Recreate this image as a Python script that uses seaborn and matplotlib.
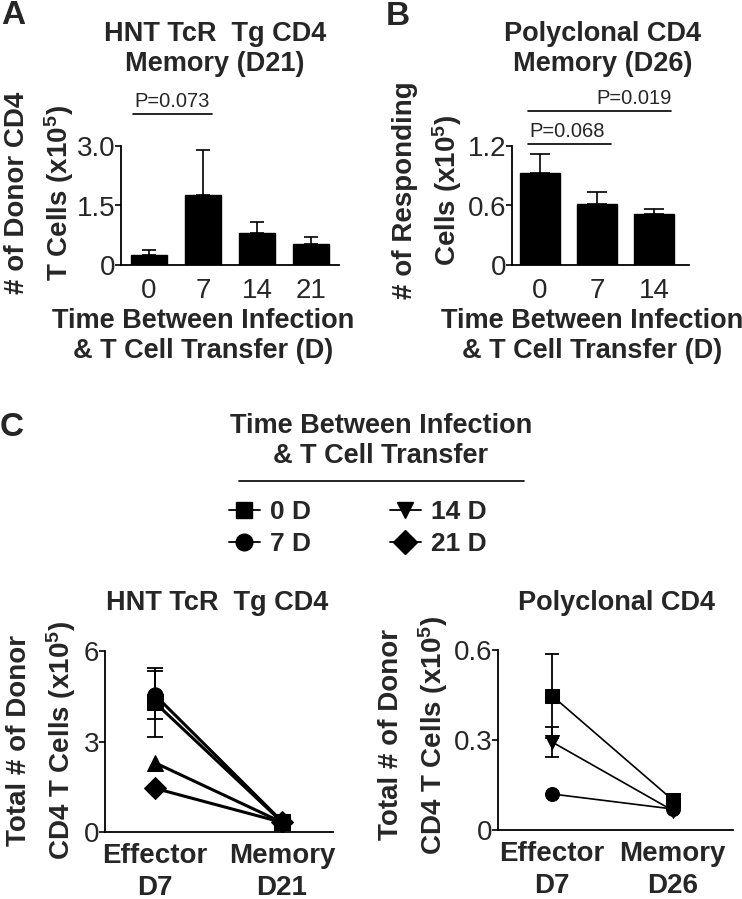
import matplotlib
matplotlib.use("Agg")
import matplotlib.pyplot as plt
from matplotlib.lines import Line2D
import seaborn as sns
import pandas as pd

# panel A: HNT TcR Tg CD4 memory (D21)
a_days = ["0", "7", "14", "21"]
a_mean = [0.25, 1.76, 0.81, 0.53]
a_err = [0.13, 1.14, 0.27, 0.18]

# panel B: polyclonal CD4 memory (D26)
b_days = ["0", "7", "14"]
b_mean = [0.93, 0.615, 0.51]
b_err = [0.19, 0.12, 0.055]

# panel C: effector D7 -> memory
c_groups = ["0 D", "7 D", "14 D", "21 D"]
c_markers = {"0 D": "s", "7 D": "o", "14 D": "v", "21 D": "D"}
tg_groups = ["0 D", "7 D", "14 D", "21 D"]
tg_eff = [4.3, 4.55, 2.3, 1.45]
tg_eff_err = [1.15, 0.8, 0.0, 0.0]
tg_mem = [0.33, 0.35, 0.32, 0.32]
poly_groups = ["0 D", "7 D", "14 D"]
poly_eff = [0.447, 0.12, 0.293]
poly_eff_err = [0.14, 0.0, 0.05]
poly_mem = [0.10, 0.07, 0.065]

W, H = 742, 899

sns.set_theme(style="ticks")
plt.rcParams["font.family"] = ["Liberation Sans", "DejaVu Sans"]
plt.rcParams["mathtext.fontset"] = "custom"
plt.rcParams["mathtext.rm"] = "Liberation Sans"
plt.rcParams["mathtext.default"] = "regular"

fig = plt.figure(figsize=(W / 100, H / 100), dpi=100)


def axes_px(x0, y0, x1, y1):
    return fig.add_axes([x0 / W, 1 - y1 / H, (x1 - x0) / W, (y1 - y0) / H])


def text_px(x, y, s, **kw):
    fig.text(x / W, 1 - y / H, s, **kw)


def style_axis(ax, yticks, ylabels):
    sns.despine(ax=ax)
    for sp in ["left", "bottom"]:
        ax.spines[sp].set_linewidth(1.3)
        ax.spines[sp].set_color("black")
    ax.set_yticks(yticks)
    ax.set_yticklabels(ylabels)
    ax.tick_params(axis="y", length=4, width=1.2, pad=0, labelsize=20, color="black")
    ax.tick_params(axis="x", length=0, pad=9, labelsize=20)
    ax.set_xlabel("")
    ax.set_ylabel("")
    ax.set_facecolor("white")


def bars(ax, days, mean, err, width, capsize):
    sns.barplot(x=days, y=mean, color="black", width=width, ax=ax,
                saturation=1, edgecolor="black")
    ax.errorbar(range(len(days)), mean, yerr=[[0] * len(err), err], fmt="none",
                ecolor="black", elinewidth=1.2, capsize=capsize, capthick=1.2)


# ---- panel A ----
ax_a = axes_px(121, 146, 339, 265)
bars(ax_a, a_days, a_mean, a_err, 0.67, 5)
ax_a.set_xlim(-0.52, 3.52)
ax_a.set_ylim(0, 3.0)
style_axis(ax_a, [0, 1.5, 3.0], ["0", "1.5", "3.0"])
ax_a.plot([-0.30, 1.17], [3.81, 3.81], color="black", lw=1.2, clip_on=False)
ax_a.text(0.43, 3.88, "P=0.073", ha="center", va="bottom", fontsize=14.5)

# ---- panel B ----
ax_b = axes_px(512, 146, 689, 265)
bars(ax_b, b_days, b_mean, b_err, 0.7, 7)
ax_b.set_xlim(-0.49, 2.61)
ax_b.set_ylim(0, 1.2)
style_axis(ax_b, [0, 0.6, 1.2], ["0", "0.6", "1.2"])
ax_b.plot([-0.21, 1.25], [1.22, 1.22], color="black", lw=1.2, clip_on=False)
ax_b.text(0.47, 1.25, "P=0.068", ha="center", va="bottom", fontsize=14.5)
ax_b.plot([-0.21, 2.30], [1.55, 1.55], color="black", lw=1.2, clip_on=False)
ax_b.text(2.30, 1.58, "P=0.019", ha="right", va="bottom", fontsize=14.5)


# ---- panel C ----
def pairs(ax, groups, eff, eff_err, mem, lw, ms, capsize, markers):
    df = pd.DataFrame({
        "group": groups + groups,
        "x": [0] * len(groups) + [1] * len(groups),
        "y": eff + mem,
    })
    sns.lineplot(data=df, x="x", y="y", hue="group", style="group",
                 markers=markers, dashes=False, estimator=None, sort=False,
                 palette={g: "black" for g in groups}, legend=False, ax=ax,
                 linewidth=lw, markersize=ms, markeredgecolor="black")
    for v, e in zip(eff, eff_err):
        if e > 0:
            ax.errorbar([0], [v], yerr=[e], fmt="none", ecolor="black",
                        elinewidth=1.3, capsize=capsize, capthick=1.3)


tg_markers = {"0 D": "s", "7 D": "o", "14 D": "^", "21 D": "D"}
ax_c1 = axes_px(105, 651, 333, 832)
pairs(ax_c1, tg_groups, tg_eff, tg_eff_err, tg_mem, 2.2, 11, 6, tg_markers)
ax_c1.set_xlim(-0.39, 1.40)
ax_c1.set_ylim(0, 6)
style_axis(ax_c1, [0, 3, 6], ["0", "3", "6"])
ax_c1.set_xticks([0, 1])
ax_c1.set_xticklabels(["Effector\nD7", "Memory\nD21"], fontweight="bold",
                      fontsize=20, linespacing=1.27)

poly_markers = {g: c_markers[g] for g in poly_groups}
ax_c2 = axes_px(498, 650, 733, 830)
pairs(ax_c2, poly_groups, poly_eff, poly_eff_err, poly_mem, 1.2, 10, 5, poly_markers)
ax_c2.set_xlim(-0.45, 1.50)
ax_c2.set_ylim(0, 0.6)
style_axis(ax_c2, [0, 0.3, 0.6], ["0", "0.3", "0.6"])
ax_c2.set_xticks([0, 1])
ax_c2.set_xticklabels(["Effector\nD7", "Memory\nD26"], fontweight="bold",
                      fontsize=20, linespacing=1.27)
for ax in (ax_c1, ax_c2):
    ax.tick_params(axis="x", pad=8)

# ---- titles and labels ----
bold = dict(fontweight="bold", ha="center", va="center")
text_px(215, 49, "HNT TcR  Tg CD4\nMemory (D21)", fontsize=19.5, linespacing=1.2, **bold)
text_px(603, 49, "Polyclonal CD4\nMemory (D26)", fontsize=19.5, linespacing=1.2, **bold)
text_px(217, 603, "HNT TcR  Tg CD4", fontsize=19.5, **bold)
text_px(616, 603, "Polyclonal CD4", fontsize=19.5, **bold)

xl = "Time Between Infection\n& T Cell Transfer (D)"
text_px(203, 336, xl, fontsize=19.5, linespacing=1.15, **bold)
text_px(592, 336, xl, fontsize=19.5, linespacing=1.15, **bold)

yl = dict(fontweight="bold", ha="center", va="center", rotation=90, fontsize=20,
          linespacing=1.45)
text_px(40, 193, "# of Donor CD4\nT Cells (x10$^5$)", **yl)
text_px(428, 190, "# of Responding\nCells (x10$^5$)", **yl)
text_px(42, 740, "Total # of Donor\nCD4 T Cells (x10$^5$)", **yl)
text_px(414, 735, "Total # of Donor\nCD4 T Cells (x10$^5$)", **yl)

lt = dict(fontweight="bold", fontsize=24, ha="left", va="top")
text_px(1, 0, "A", **lt)
text_px(386, 1, "B", **lt)
text_px(0, 412, "C", **lt)

# ---- legend ----
text_px(381, 441, "Time Between Infection\n& T Cell Transfer", fontsize=19.5,
        linespacing=1.2, **bold)
fig.add_artist(Line2D([239 / W, 524 / W], [1 - 481 / H, 1 - 481 / H],
                      color="black", lw=1.2))
handles = [Line2D([0], [0], color="black", lw=1.3, marker=c_markers[g],
                  markersize=12, label=g) for g in c_groups]
fig.legend(handles=handles, ncol=2, frameon=False, loc="upper left",
           bbox_to_anchor=(216 / W, 1 - 487 / H), borderpad=0,
           handlelength=1.15, handletextpad=0.4, columnspacing=3.0,
           labelspacing=0.3, prop=dict(weight="bold", size=19))

fig.savefig("out.png", dpi=100, facecolor="white")
